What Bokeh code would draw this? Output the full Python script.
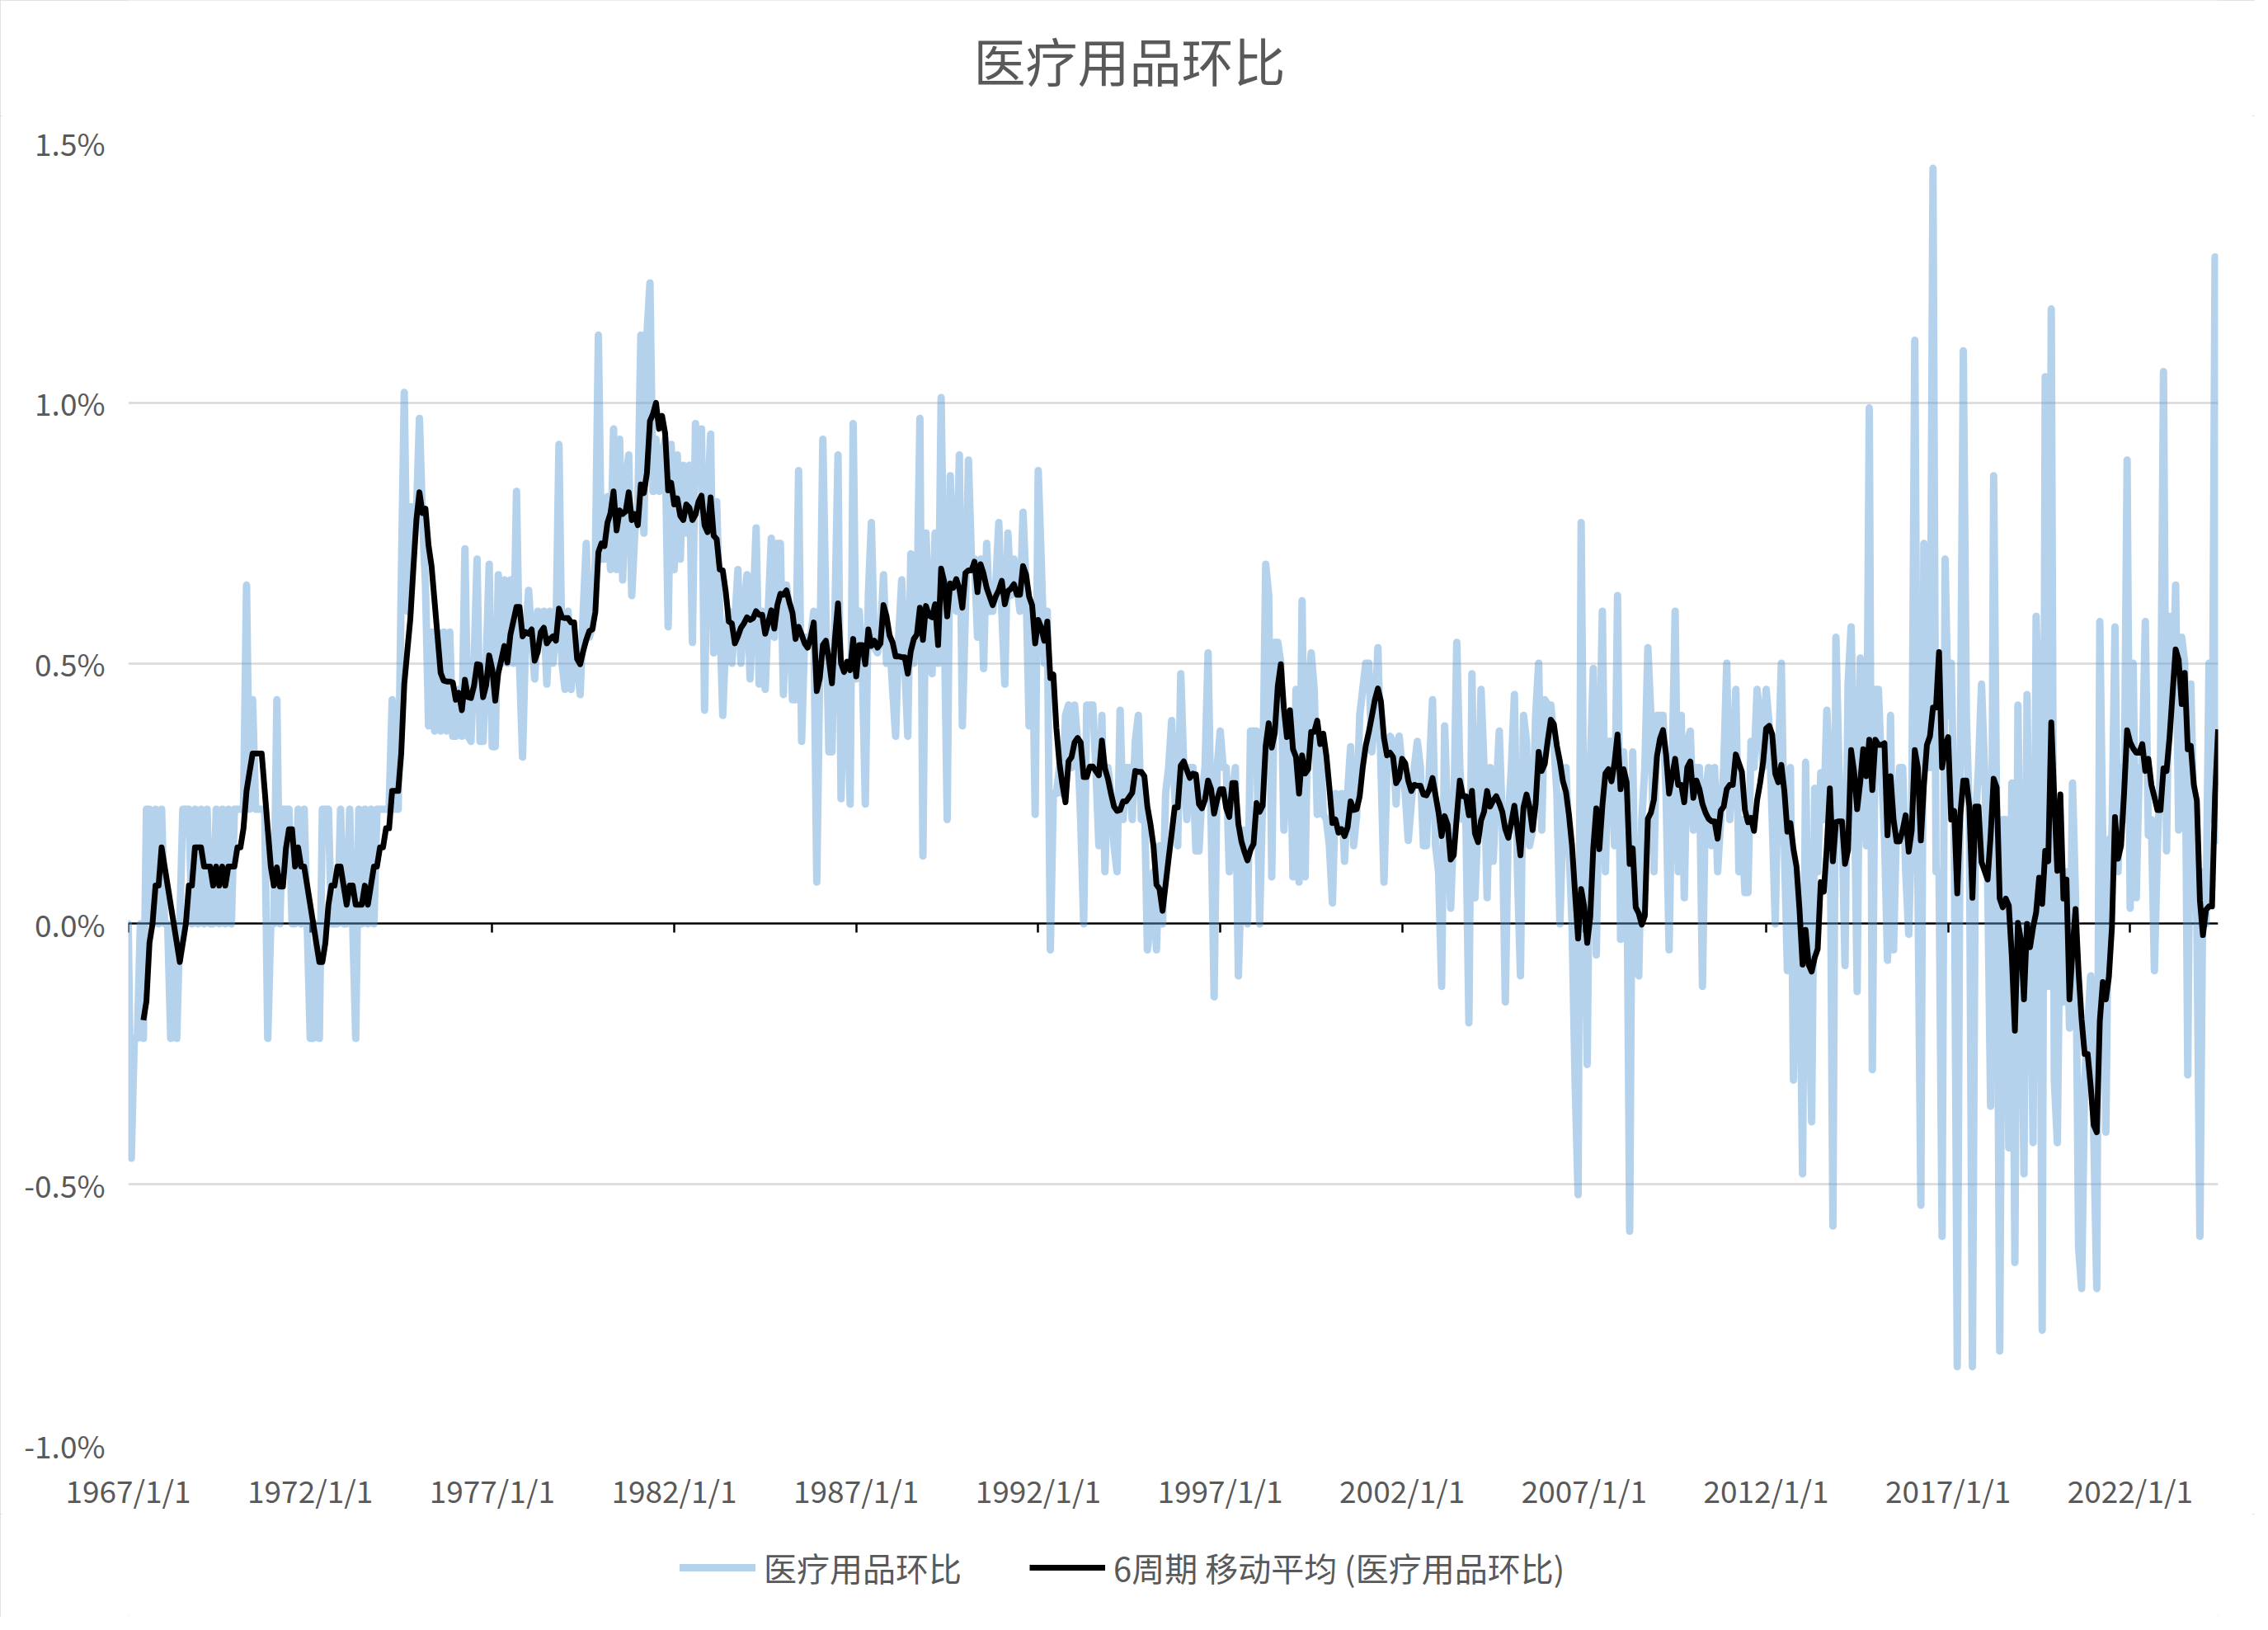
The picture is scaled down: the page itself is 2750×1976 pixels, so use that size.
import numpy as np
import pandas as pd
from bokeh.plotting import figure
from bokeh.layouts import column
from bokeh.models import (ColumnDataSource, Range1d, FixedTicker, LinearAxis,
                          PrintfTickFormatter, Legend, LegendItem, Label)
from bokeh.embed import file_html
from bokeh.resources import INLINE

# ---------------- data ----------------
title_text = "医疗用品环比"
series_name = "医疗用品环比"
ma_name = "6周期 移动平均 (医疗用品环比)"
ma_window = 6

x_tick_labels = ["1967/1/1", "1972/1/1", "1977/1/1", "1982/1/1", "1987/1/1", "1992/1/1",
                 "1997/1/1", "2002/1/1", "2007/1/1", "2012/1/1", "2017/1/1", "2022/1/1"]
months_per_label = 60
y_ticks = [-1.0, -0.5, 0.0, 0.5, 1.0, 1.5]

# month-over-month change, percent (one value per month, from 1967/1)
mom_1967_1971 = [
    0, -0.45, -0.22, -0.22, 0, -0.22, 0.22, 0.22, 0, 0.22,
    0, 0.22, 0, 0, -0.22, 0, -0.22, 0, 0.22, 0.22,
    0.22, 0, 0.22, 0, 0.22, 0, 0.22, 0, 0, 0.22,
    0, 0.22, 0, 0.22, 0, 0.22, 0.22, 0.22, 0.22, 0.65,
    0.22, 0.43, 0.22, 0.22, 0.22, 0.22, -0.22, 0, 0, 0.43,
    0, 0.22, 0.22, 0.22, 0, 0, 0.22, 0, 0.22, 0]
mom_1972_1976 = [
    -0.22, -0.22, 0, -0.22, 0.22, 0.22, 0.22, 0, 0, 0,
    0.22, 0, 0, 0.22, 0, -0.22, 0.22, 0, 0.22, 0,
    0.22, 0, 0.22, 0.22, 0.22, 0.22, 0.22, 0.43, 0.22, 0.22,
    0.65, 1.02, 0.6, 0.8, 0.8, 0.78, 0.97, 0.78, 0.65, 0.38,
    0.56, 0.37, 0.56, 0.37, 0.56, 0.37, 0.56, 0.36, 0.36, 0.45,
    0.36, 0.72, 0.36, 0.35, 0.5, 0.7, 0.35, 0.35, 0.5, 0.69]
mom_1977_1981 = [
    0.34, 0.34, 0.67, 0.5, 0.66, 0.5, 0.66, 0.5, 0.83, 0.5,
    0.32, 0.55, 0.64, 0.55, 0.47, 0.6, 0.55, 0.6, 0.46, 0.6,
    0.5, 0.55, 0.92, 0.5, 0.45, 0.6, 0.45, 0.55, 0.5, 0.44,
    0.6, 0.73, 0.55, 0.57, 0.7, 1.13, 0.7, 0.7, 0.82, 0.68,
    0.95, 0.68, 0.93, 0.66, 0.85, 0.9, 0.63, 0.75, 0.8, 1.13,
    0.75, 1.13, 1.23, 0.83, 0.93, 0.83, 0.9, 0.93, 0.57, 0.92]
mom_1982_1986 = [
    0.68, 0.9, 0.7, 0.88, 0.75, 0.88, 0.54, 0.96, 0.85, 0.95,
    0.41, 0.8, 0.94, 0.52, 0.81, 0.6, 0.4, 0.55, 0.6, 0.5,
    0.58, 0.68, 0.5, 0.6, 0.67, 0.47, 0.6, 0.76, 0.46, 0.6,
    0.45, 0.6, 0.74, 0.55, 0.73, 0.73, 0.44, 0.65, 0.6, 0.43,
    0.43, 0.87, 0.35, 0.55, 0.55, 0.55, 0.6, 0.08, 0.5, 0.93,
    0.6, 0.33, 0.33, 0.6, 0.9, 0.24, 0.5, 0.45, 0.23, 0.96]
mom_1987_1991 = [
    0.47, 0.6, 0.5, 0.23, 0.63, 0.77, 0.53, 0.52, 0.55, 0.67,
    0.5, 0.55, 0.45, 0.36, 0.55, 0.66, 0.5, 0.36, 0.71, 0.5,
    0.6, 0.97, 0.13, 0.75, 0.6, 0.48, 0.75, 0.5, 1.01, 0.6,
    0.2, 0.86, 0.7, 0.6, 0.9, 0.38, 0.6, 0.89, 0.7, 0.7,
    0.55, 0.7, 0.49, 0.73, 0.6, 0.6, 0.65, 0.77, 0.6, 0.46,
    0.75, 0.63, 0.7, 0.65, 0.6, 0.79, 0.65, 0.38, 0.6, 0.21]
mom_1992_1996 = [
    0.87, 0.7, 0.5, 0.6, -0.05, 0.25, 0.25, 0.3, 0.25, 0.4,
    0.42, 0.3, 0.42, 0.35, 0.2, 0.0, 0.42, 0.42, 0.42, 0.3,
    0.15, 0.4, 0.1, 0.3, 0.25, 0.15, 0.1, 0.41, 0.2, 0.3,
    0.3, 0.2, 0.35, 0.4, 0.2, 0.25, -0.05, 0.0, 0.1, -0.05,
    0.15, 0.0, 0.25, 0.3, 0.39, 0.25, 0.15, 0.48, 0.3, 0.2,
    0.3, 0.3, 0.14, 0.14, 0.25, 0.3, 0.52, 0.2, -0.14, 0.3]
mom_1997_2001 = [
    0.37, 0.3, 0.3, 0.1, 0.25, 0.3, -0.1, 0.1, 0.18, 0.0,
    0.37, 0.37, 0.37, 0.0, 0.25, 0.69, 0.63, 0.09, 0.54, 0.54,
    0.5, 0.18, 0.3, 0.4, 0.09, 0.45, 0.08, 0.62, 0.09, 0.45,
    0.52, 0.45, 0.21, 0.35, 0.21, 0.2, 0.15, 0.04, 0.25, 0.2,
    0.25, 0.12, 0.25, 0.34, 0.15, 0.21, 0.4, 0.45, 0.5, 0.5,
    0.33, 0.4, 0.53, 0.3, 0.08, 0.3, 0.36, 0.35, 0.23, 0.36]
mom_2002_2006 = [
    0.3, 0.25, 0.16, 0.23, 0.3, 0.35, 0.3, 0.15, 0.15, 0.3,
    0.43, 0.15, 0.1, -0.12, 0.38, 0.2, 0.03, 0.2, 0.54, 0.3,
    0.2, 0.2, -0.19, 0.48, 0.05, 0.2, 0.45, 0.3, 0.05, 0.3,
    0.12, 0.25, 0.37, 0.2, -0.15, 0.2, 0.3, 0.44, 0.1, -0.1,
    0.4, 0.35, 0.15, 0.18, 0.4, 0.5, 0.18, 0.43, 0.42, 0.42,
    0.35, 0.25, 0.0, 0.2, 0.3, 0.15, 0.0, -0.3, -0.52, 0.77]
mom_2007_2011 = [
    0.1, -0.27, 0.3, 0.49, -0.06, 0.3, 0.6, 0.1, 0.35, 0.35,
    0.15, 0.63, -0.03, 0.33, 0.2, -0.59, 0.33, -0.05, -0.1, 0.2,
    0.3, 0.53, 0.4, 0.1, 0.4, 0.4, 0.4, 0.25, -0.05, 0.3,
    0.6, 0.1, 0.4, 0.05, 0.35, 0.37, 0.18, 0.3, 0.3, -0.12,
    0.25, 0.3, 0.15, 0.3, 0.1, 0.2, 0.3, 0.5, 0.2, 0.3,
    0.45, 0.1, 0.2, 0.06, 0.06, 0.35, 0.3, 0.45, 0.4, 0.3]
mom_2012_2016 = [
    0.45, 0.38, 0.2, 0.0, 0.3, 0.5, 0.15, -0.09, 0.3, -0.3,
    0.1, 0.0, -0.48, 0.31, -0.1, -0.38, 0.26, 0.1, 0.29, 0.2,
    0.41, 0.3, -0.58, 0.55, 0.3, 0.2, -0.08, 0.46, 0.57, 0.3,
    -0.13, 0.51, 0.3, 0.15, 0.99, -0.28, 0.45, 0.45, 0.3, 0.17,
    -0.07, 0.4, -0.05, 0.2, 0.3, 0.3, 0.1, -0.02, 0.2, 1.12,
    0.1, -0.54, 0.73, 0.45, 0.3, 1.45, 0.1, 0.1, -0.6, 0.7]
mom_2017_2021 = [
    0.4, 0.5, 0.2, -0.85, 0.3, 1.1, 0.4, 0.2, -0.85, 0.2,
    0.3, 0.46, 0.3, 0.1, -0.35, 0.86, 0.2, -0.82, 0.2, 0.2,
    -0.43, 0.27, -0.65, 0.42, 0.0, -0.48, 0.44, 0.0, -0.42, 0.59,
    0.4, -0.78, 1.05, -0.12, 1.18, -0.3, -0.42, 0.1, -0.15, 0.1,
    -0.2, 0.27, 0.05, -0.62, -0.7, -0.3, -0.2, -0.1, -0.4, -0.7,
    0.58, 0.15, -0.4, 0.16, 0.17, 0.57, 0.1, 0.3, 0.2, 0.89]
mom_2022_2024 = [
    0.03, 0.5, 0.05, 0.3, 0.3, 0.58, 0.17, 0.2, -0.09, 0.15,
    0.3, 1.06, 0.14, 0.59, 0.42, 0.65, 0.18, 0.55, 0.5, -0.29,
    0.46, 0.2, 0.0, -0.6, 0.1, 0.0, 0.5, 0.2, 1.28, 0.16]

values = (mom_1967_1971 + mom_1972_1976 + mom_1977_1981 + mom_1982_1986 +
          mom_1987_1991 + mom_1992_1996 + mom_1997_2001 + mom_2002_2006 +
          mom_2007_2011 + mom_2012_2016 + mom_2017_2021 + mom_2022_2024)
n = len(values)
month_index = np.arange(n)
moving_avg = pd.Series(values, dtype=float).rolling(ma_window).mean().to_numpy()

src = ColumnDataSource(dict(x=month_index, y=np.array(values, dtype=float), ma=moving_avg))

# ---------------- styles ----------------
TEXT = "#595959"
FONT = "Noto Sans CJK SC"
MOM_STYLE = dict(line_color="#5B9BD5", line_alpha=0.45, line_width=9,
                 line_join="round", line_cap="round")
MA_STYLE = dict(line_color="black", line_width=7, line_join="round", line_cap="butt")

W = 2734
BL, BR = 155, 45          # left / right borders shared by all strips
FRAME_W = W - BL - BR
TITLE_H = 140
MAIN_H = 1695
LEG_H = 125

# ---------------- title strip ----------------
tf = figure(width=W, height=TITLE_H, output_backend="svg", toolbar_location=None,
            x_range=Range1d(0, FRAME_W), y_range=Range1d(0, TITLE_H),
            x_axis_type=None, y_axis_type=None, title=None,
            min_border_left=BL, min_border_right=BR, min_border_top=0, min_border_bottom=0,
            background_fill_color="white", border_fill_color="white",
            outline_line_color=None)
tf.add_layout(Label(x=1025, y=TITLE_H - 71, text=title_text,
                    text_align="left", text_baseline="middle",
                    text_font=FONT, text_font_size="63px", text_color=TEXT))

# ---------------- main chart ----------------
p = figure(width=W, height=MAIN_H, output_backend="svg", toolbar_location=None,
           x_range=Range1d(0, n - 1), y_range=Range1d(-1.0, 1.5),
           x_axis_type=None, title=None,
           min_border_left=BL, min_border_right=BR,
           min_border_top=32, min_border_bottom=80,
           background_fill_color="white", border_fill_color="white",
           outline_line_color=None)

# y axis
yax = p.yaxis[0]
yax.ticker = FixedTicker(ticks=y_ticks)
yax.formatter = PrintfTickFormatter(format="%.1f%%")
yax.axis_line_color = None
yax.major_tick_line_color = None
yax.minor_tick_line_color = None
yax.major_tick_in = 0
yax.major_tick_out = 0
yax.major_label_standoff = 28
yax.major_label_text_font = FONT
yax.major_label_text_font_size = "37px"
yax.major_label_text_color = TEXT

p.ygrid.ticker = FixedTicker(ticks=[t for t in y_ticks if t != 0.0])
p.ygrid.grid_line_color = "#D9D9D9"
p.ygrid.grid_line_width = 2.5

tick_pos = [i * months_per_label for i in range(len(x_tick_labels))]

# x labels (bottom)
xlab = LinearAxis(ticker=FixedTicker(ticks=tick_pos),
                  major_label_overrides={t: s for t, s in zip(tick_pos, x_tick_labels)},
                  axis_line_color=None, major_tick_line_color=None,
                  minor_tick_line_color=None, major_tick_in=0, major_tick_out=0,
                  major_label_standoff=27,
                  major_label_text_font=FONT, major_label_text_font_size="37px",
                  major_label_text_color=TEXT)
p.add_layout(xlab, "below")

# zero line with tick marks
xzero = LinearAxis(ticker=FixedTicker(ticks=tick_pos), fixed_location=0,
                   axis_line_color="black", axis_line_width=2.5,
                   major_tick_line_color="black", major_tick_line_width=2.5,
                   major_tick_in=11, major_tick_out=0,
                   minor_tick_line_color=None,
                   major_label_text_font_size="0px", major_label_text_color=None,
                   major_label_standoff=0, level="underlay")
p.add_layout(xzero, "above")

# series
p.line("x", "y", source=src, **MOM_STYLE)
p.line("x", "ma", source=src, **MA_STYLE)

# ---------------- legend strip ----------------
# key renderers share the series data; the strip's x range lies left of all data,
# so only their legend samples are visible.
lg = figure(width=W, height=LEG_H, output_backend="svg", toolbar_location=None,
            x_range=Range1d(-20, -10), y_range=Range1d(-1.0, 1.5),
            x_axis_type=None, y_axis_type=None, title=None,
            min_border_left=BL, min_border_right=BR, min_border_top=0, min_border_bottom=0,
            background_fill_color="white", border_fill_color="white",
            outline_line_color=None)
k1 = lg.line("x", "y", source=src, **MOM_STYLE)
k2 = lg.line("x", "ma", source=src, **MA_STYLE)
legend = Legend(items=[LegendItem(label=series_name, renderers=[k1]),
                       LegendItem(label=ma_name, renderers=[k2])],
                orientation="horizontal", location=(669, 31),
                glyph_width=92, glyph_height=40, label_height=40,
                label_standoff=10, spacing=82, margin=0, padding=6,
                label_text_font=FONT, label_text_font_size="40px",
                label_text_color=TEXT,
                border_line_color=None, background_fill_alpha=0)
lg.add_layout(legend, "center")

layout = column(tf, p, lg, spacing=0)
layout.styles = {"outline": "3px solid #D9D9D9", "outline-offset": "-3px"}

open("out.html", "w").write(file_html(layout, INLINE))
